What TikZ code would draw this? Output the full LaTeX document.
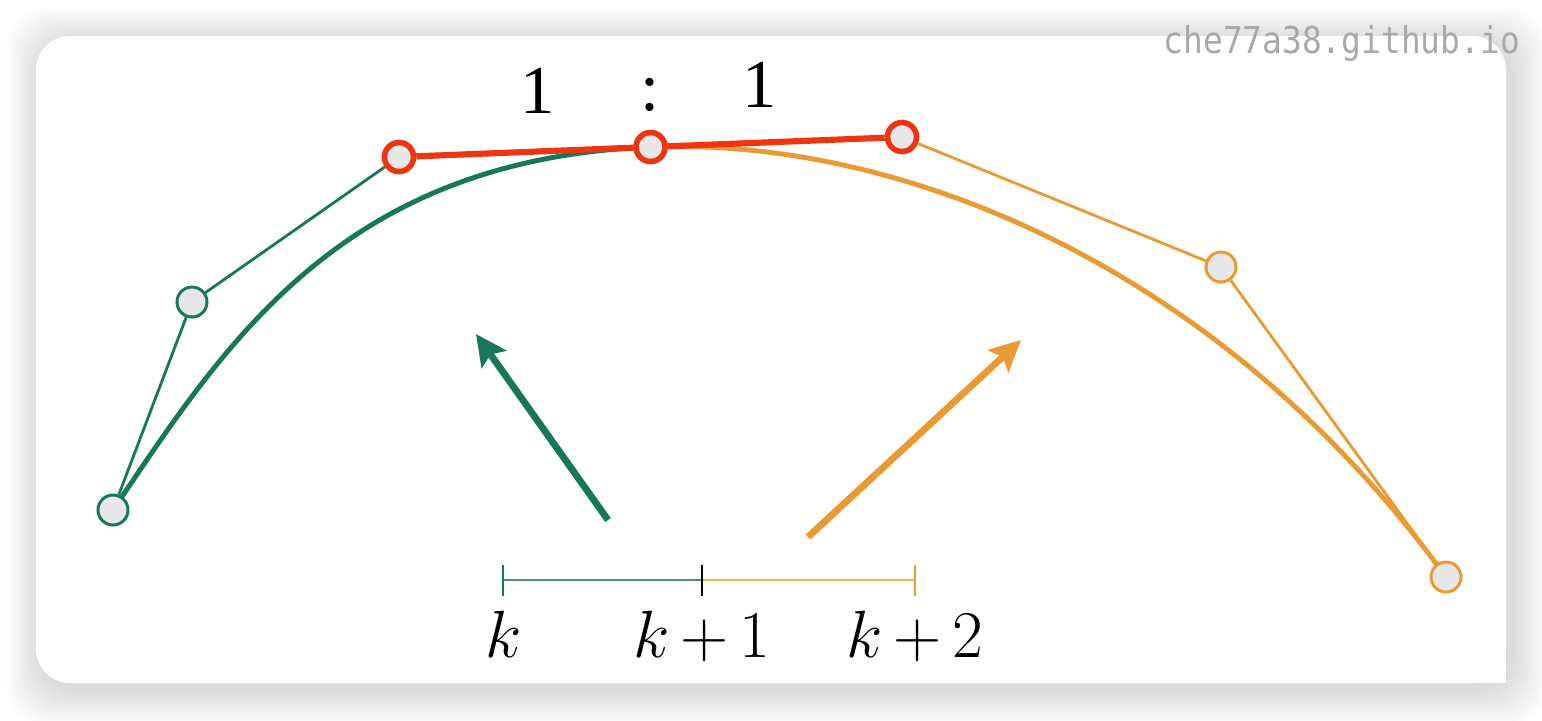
\documentclass[tikz,border=0pt]{standalone}
\usepackage{fontspec}
\newfontfamily\wmfont{DejaVu Sans Mono}
\newfontfamily\timesfont{Liberation Serif}
\usetikzlibrary{arrows.meta}
\definecolor{bgreen}{HTML}{17775A}
\definecolor{borange}{HTML}{EA9A33}
\definecolor{bred}{HTML}{F0340F}
\definecolor{ptfill}{HTML}{E8E8EA}
\definecolor{wmgray}{HTML}{A9A9A9}
\newcommand{\bigmath}[1]{\scalebox{1.1}{\medmuskip=3mu $#1$}}
\begin{document}
\begin{tikzpicture}[x=0.01cm,y=-0.01cm,
  gpt/.style={circle, draw=bgreen, fill=ptfill, line width=0.85pt, minimum size=0.30cm, inner sep=0pt},
  opt/.style={gpt, draw=borange},
  rpt/.style={circle, draw=bred, fill=ptfill, line width=1.6pt, minimum size=0.29cm, inner sep=0pt},
  gpoly/.style={draw=bgreen, line width=0.8pt},
  opoly/.style={draw=borange, line width=0.8pt},
  rpoly/.style={draw=bred, line width=1.75pt},
  gcurve/.style={draw=bgreen, line width=1.4pt},
  ocurve/.style={draw=borange, line width=1.4pt},
  bigarrow/.style={line width=1.95pt, -{Stealth[length=0.31cm, width=0.30cm, inset=0.06cm]}},
  ticklab/.style={anchor=base, inner sep=0pt, font=\fontsize{17.28}{20}\selectfont},
  ratiolab/.style={anchor=base, inner sep=0pt, font=\timesfont\fontsize{19.5}{22}\selectfont}
]
\useasboundingbox (0,0) rectangle (1542,720);
% shadow
\foreach \d in {2,4,...,36}
  \fill[black, opacity=0.0075, rounded corners=0.4cm] (42-\d,43-\d) rectangle (1512+\d,690+\d);
% card
\fill[white, rounded corners=0.34cm] (36,36) rectangle (1506,683);
\fill[white] (1450,630) rectangle (1506,683);
% coordinates of the control points
\coordinate (c0) at (113,510);
\coordinate (c1) at (192,302);
\coordinate (c2) at (399,157);
\coordinate (c3) at (650.5,147);
\coordinate (c4) at (902,137);
\coordinate (c5) at (1221,267);
\coordinate (c6) at (1446,577);
% curve handles
\coordinate (h1) at (225,344);
\coordinate (h2) at (340.7,159.3);
\coordinate (h4) at (902,137);
\coordinate (h5) at (1221,267);
% curves
\draw[gcurve] (c0) .. controls (h1) and (h2) .. (c3);
\draw[ocurve] (c3) .. controls (h4) and (h5) .. (c6);
% points
\node[gpt] (p0) at (c0) {};
\node[gpt] (p1) at (c1) {};
\node[rpt] (p2) at (c2) {};
\node[rpt] (p3) at (c3) {};
\node[rpt] (p4) at (c4) {};
\node[opt] (p5) at (c5) {};
\node[opt] (p6) at (c6) {};
% control polygons
\draw[gpoly] (p0) -- (p1);
\draw[gpoly] (p1) -- (p2);
\draw[rpoly] (p2) -- (p3);
\draw[rpoly] (p3) -- (p4);
\draw[opoly] (p4) -- (p5);
\draw[opoly] (p5) -- (p6);
% ratio labels
\node[ratiolab] (r1) at (538,113) {1};
\node[ratiolab] (rc) at (650,110) {:};
\node[ratiolab] (r2) at (760,107) {1};
% arrows
\coordinate (ga1) at (608,520);
\coordinate (ga2) at (476,334);
\coordinate (oa1) at (808,537);
\coordinate (oa2) at (1021,340);
\draw[bigarrow, bgreen] (ga1) -- (ga2);
\draw[bigarrow, borange] (oa1) -- (oa2);
% knot line
\coordinate (nk) at (503,580);
\coordinate (nk1) at (702,580);
\coordinate (nk2) at (915,580);
\draw[bgreen!80, line width=0.55pt] (nk) -- (nk1);
\draw[borange!75, line width=0.55pt] (nk1) -- (nk2);
\draw[bgreen, line width=0.75pt] ([yshift=0.15cm]nk) -- ([yshift=-0.16cm]nk);
\draw[black, line width=0.75pt] ([yshift=0.15cm]nk1) -- ([yshift=-0.16cm]nk1);
\draw[borange, line width=0.75pt] ([yshift=0.15cm]nk2) -- ([yshift=-0.16cm]nk2);
\node[ticklab] (lk) at (504,657) {\bigmath{k}};
\node[ticklab] (lk1) at (702,657) {\bigmath{k+1}};
\node[ticklab] (lk2) at (915,657) {\bigmath{k+2}};
% watermark
\node[anchor=base west, text=wmgray, inner sep=0pt] (wm) at (1163,53)
  {\scalebox{0.89}[1]{\wmfont\fontsize{10.5}{12}\selectfont che77a38.github.io}};
\end{tikzpicture}
\end{document}
